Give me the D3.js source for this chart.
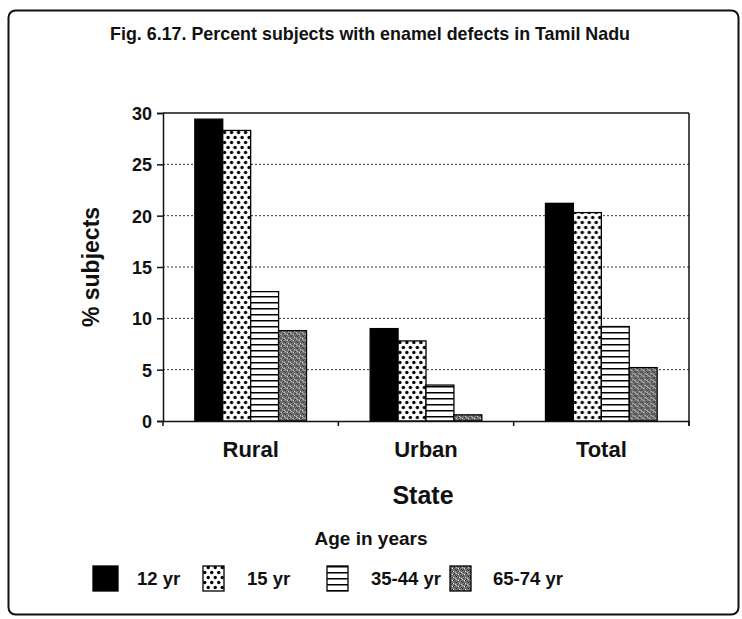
<!DOCTYPE html>
<html>
<head>
<meta charset="utf-8">
<script src="https://cdn.jsdelivr.net/npm/d3@7"></script>
<style>
  html, body { margin: 0; padding: 0; background: #fff; }
  svg { display: block; }
  text { font-family: "Liberation Sans", Arial, Helvetica, sans-serif; font-weight: bold; fill: #111; }
</style>
</head>
<body>
<script>
// ---- data ----
const categories = ["Rural", "Urban", "Total"];
const seriesNames = ["12 yr", "15 yr", "35-44 yr", "65-74 yr"];
const values12 = [29.4, 9.0, 21.2];
const values15 = [28.3, 7.8, 20.3];
const values3544 = [12.6, 3.5, 9.2];
const values6574 = [8.8, 0.6, 5.2];
const yTicks = [0, 5, 10, 15, 20, 25, 30];
const titleText = "Fig. 6.17. Percent subjects with enamel defects in Tamil Nadu";
const yTitle = "% subjects";
const xTitle = "State";
const legendTitle = "Age in years";

const seriesValues = [values12, values15, values3544, values6574];

const W = 742, H = 619;
const svg = d3.select("body").append("svg").attr("width", W).attr("height", H);

// ---- patterns ----
const defs = svg.append("defs");
const pDots = defs.append("pattern").attr("id", "pDots").attr("patternUnits", "userSpaceOnUse")
  .attr("width", 7).attr("height", 10);
pDots.append("rect").attr("width", 7).attr("height", 10).attr("fill", "#fff");
pDots.append("circle").attr("cx", 1.75).attr("cy", 2.5).attr("r", 1.7).attr("fill", "#000");
pDots.append("circle").attr("cx", 5.25).attr("cy", 7.5).attr("r", 1.7).attr("fill", "#000");

const pLines = defs.append("pattern").attr("id", "pLines").attr("patternUnits", "userSpaceOnUse")
  .attr("width", 8).attr("height", 6);
pLines.append("rect").attr("width", 8).attr("height", 6).attr("fill", "#fff");
pLines.append("rect").attr("y", 2).attr("width", 8).attr("height", 1.5).attr("fill", "#000");

const pGray = defs.append("pattern").attr("id", "pGray").attr("patternUnits", "userSpaceOnUse")
  .attr("width", 6).attr("height", 6);
pGray.append("rect").attr("width", 6).attr("height", 6).attr("fill", "#7a7a7a");
[[0,0,"#222"],[3,1,"#ddd"],[1,2,"#444"],[4,3,"#222"],[2,4,"#eee"],[5,5,"#333"],[0,3,"#bbb"],[4,0,"#555"],[2,1,"#333"],[5,2,"#ccc"],[1,5,"#444"],[3,4,"#333"]]
  .forEach(([x, y, c]) => pGray.append("rect").attr("x", x).attr("y", y).attr("width", 1).attr("height", 1).attr("fill", c));

const fills = ["#000", "url(#pDots)", "url(#pLines)", "url(#pGray)"];

// ---- outer frame ----
svg.append("rect").attr("x", 8.5).attr("y", 10.5).attr("width", 730).attr("height", 604)
  .attr("rx", 7).attr("fill", "none").attr("stroke", "#111").attr("stroke-width", 2);

// ---- title ----
svg.append("text").attr("x", 370).attr("y", 40).attr("text-anchor", "middle")
  .style("font-family", "'Liberation Sans Narrow', 'Arial Narrow', 'Liberation Sans', Arial, sans-serif")
  .style("font-size", "19px")
  .attr("textLength", 520).attr("lengthAdjust", "spacingAndGlyphs")
  .text(titleText);

// ---- scales ----
const plot = { left: 163, right: 689, top: 113, bottom: 421 };
const x0 = d3.scaleBand().domain(categories).range([plot.left, plot.right])
  .paddingInner(0.363).paddingOuter(0.1815);
const x1 = d3.scaleBand().domain(seriesNames).range([0, x0.bandwidth()]).padding(0);
const y = d3.scaleLinear().domain([0, 30]).range([plot.bottom, plot.top]);

// gridlines
svg.append("g").selectAll("line").data(yTicks.filter(t => t > 0 && t < 30)).join("line")
  .attr("x1", plot.left).attr("x2", plot.right)
  .attr("y1", d => y(d)).attr("y2", d => y(d))
  .attr("stroke", "#333").attr("stroke-width", 1).attr("stroke-dasharray", "2,2");

// plot frame top & right
svg.append("line").attr("x1", plot.left).attr("x2", plot.right).attr("y1", plot.top).attr("y2", plot.top)
  .attr("stroke", "#111").attr("stroke-width", 1.5);
svg.append("line").attr("x1", plot.right).attr("x2", plot.right).attr("y1", plot.top).attr("y2", plot.bottom + 5)
  .attr("stroke", "#111").attr("stroke-width", 1.5);

// bars
const groups = svg.append("g").selectAll("g").data(categories).join("g")
  .attr("transform", d => `translate(${x0(d)},0)`);
groups.selectAll("rect").data((c, ci) => seriesNames.map((s, si) => ({ s, si, v: seriesValues[si][ci] }))).join("rect")
  .attr("x", d => x1(d.s)).attr("width", x1.bandwidth())
  .attr("y", d => y(d.v)).attr("height", d => y(0) - y(d.v))
  .attr("fill", d => fills[d.si]).attr("stroke", "#000").attr("stroke-width", 1.3);

// y axis
const yAxis = svg.append("g").attr("transform", `translate(${plot.left},0)`)
  .call(d3.axisLeft(y).tickValues(yTicks).tickSize(6).tickPadding(5).tickFormat(d3.format("d")));
yAxis.select(".domain").attr("stroke", "#111").attr("stroke-width", 1.5);
yAxis.selectAll(".tick line").attr("stroke", "#111").attr("stroke-width", 1.5);
yAxis.selectAll(".tick text").style("font-size", "18px").style("font-family", "'Liberation Sans', Arial, sans-serif")
  .style("font-weight", "bold").attr("fill", "#111").attr("dy", "0.36em");

// x axis
const xAxis = svg.append("g").attr("transform", `translate(0,${plot.bottom})`)
  .call(d3.axisBottom(x0).tickSize(0).tickPadding(20));
xAxis.select(".domain").attr("stroke", "#111").attr("stroke-width", 1.5);
xAxis.selectAll(".tick text").style("font-size", "22px").style("font-family", "'Liberation Sans', Arial, sans-serif")
  .style("font-weight", "bold").attr("fill", "#111");
// small ticks at category boundaries
const bounds = [plot.left, ...categories.slice(1).map(c => x0(c) - x0.step() * x0.paddingInner() / 2), plot.right];
svg.append("g").selectAll("line").data(bounds).join("line")
  .attr("x1", d => d).attr("x2", d => d).attr("y1", plot.bottom).attr("y2", plot.bottom + 5)
  .attr("stroke", "#111").attr("stroke-width", 1.5);

// axis titles
svg.append("text").attr("transform", `translate(99,${(plot.top + plot.bottom) / 2}) rotate(-90)`)
  .attr("text-anchor", "middle").style("font-size", "23px").text(yTitle);
svg.append("text").attr("x", 423).attr("y", 504).attr("text-anchor", "middle")
  .style("font-size", "25px").text(xTitle);

// legend
svg.append("text").attr("x", 371).attr("y", 545).attr("text-anchor", "middle")
  .style("font-size", "19px").text(legendTitle);
const legendSwatchX = [93, 203, 327, 450];
const legendTextX = [137, 247, 371, 493];
const lg = svg.append("g").selectAll("g").data(seriesNames).join("g");
lg.append("rect").attr("x", (d, i) => legendSwatchX[i]).attr("y", 566)
  .attr("width", (d, i) => i === 0 ? 25 : 21).attr("height", 25)
  .attr("fill", (d, i) => fills[i]).attr("stroke", "#000").attr("stroke-width", 1.3);
lg.append("text").attr("x", (d, i) => legendTextX[i]).attr("y", 585)
  .style("font-size", "18.5px").text(d => d);
</script>
</body>
</html>
